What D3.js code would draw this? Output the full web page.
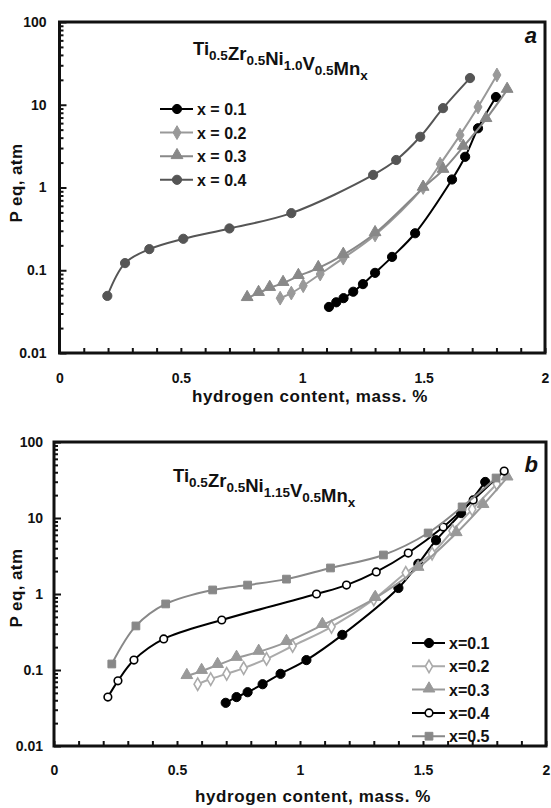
<!DOCTYPE html>
<html>
<head>
<meta charset="utf-8">
<script src="https://cdn.jsdelivr.net/npm/d3@7"></script>
<style>
  body { margin: 0; background: #fff; }
  text { font-family: "Liberation Sans", Arial, sans-serif; font-weight: bold; fill: #111; }
</style>
</head>
<body>
<svg id="chart" width="551" height="808"></svg>
<script>
// panel a : Ti0.5Zr0.5Ni1.0V0.5Mnx
let aH1 = [1.11, 1.14, 1.17, 1.21, 1.25, 1.30, 1.37, 1.465, 1.617, 1.671, 1.724, 1.798]
let aP1 = [0.036, 0.041, 0.046, 0.055, 0.068, 0.093, 0.145, 0.28, 1.25, 2.35, 5.2, 12.4]
let aH2 = [0.909, 0.955, 1.004, 1.074, 1.169, 1.30, 1.498, 1.568, 1.65, 1.724, 1.802]
let aP2 = [0.046, 0.053, 0.065, 0.09, 0.14, 0.267, 1.0, 1.92, 4.3, 9.4, 22.9]
let aH3 = [0.773, 0.82, 0.866, 0.921, 0.984, 1.066, 1.169, 1.30, 1.498, 1.58, 1.663, 1.757, 1.844]
let aP3 = [0.046, 0.053, 0.061, 0.07, 0.085, 0.106, 0.153, 0.28, 0.99, 1.63, 3.1, 6.7, 15.1]
let aH4 = [0.197, 0.27, 0.37, 0.51, 0.70, 0.955, 1.292, 1.387, 1.486, 1.58, 1.691]
let aP4 = [0.049, 0.122, 0.18, 0.24, 0.32, 0.49, 1.42, 2.15, 4.1, 9.1, 21]
let aNames = ["x = 0.1", "x = 0.2", "x = 0.3", "x = 0.4"]

// panel b : Ti0.5Zr0.5Ni1.15V0.5Mnx
let bH1 = [0.698, 0.742, 0.787, 0.848, 0.921, 1.026, 1.172, 1.40, 1.481, 1.553, 1.655, 1.753]
let bP1 = [0.037, 0.044, 0.051, 0.065, 0.089, 0.135, 0.29, 1.2, 2.5, 5.1, 11.6, 29.8]
let bH2 = [0.584, 0.637, 0.702, 0.771, 0.864, 0.97, 1.128, 1.30, 1.43, 1.537, 1.62, 1.70, 1.80]
let bP2 = [0.065, 0.076, 0.089, 0.106, 0.14, 0.207, 0.37, 0.85, 1.9, 3.4, 6.8, 13, 28]
let bH3 = [0.54, 0.60, 0.665, 0.742, 0.832, 0.945, 1.091, 1.306, 1.48, 1.635, 1.744, 1.842]
let bP3 = [0.083, 0.097, 0.116, 0.144, 0.173, 0.233, 0.39, 0.885, 2.2, 6.3, 14.8, 34]
let bH4 = [0.219, 0.26, 0.325, 0.446, 0.682, 1.067, 1.189, 1.31, 1.44, 1.582, 1.704, 1.83]
let bP4 = [0.044, 0.072, 0.135, 0.256, 0.455, 1.0, 1.31, 1.95, 3.46, 7.6, 17.3, 41.5]
let bH5 = [0.235, 0.333, 0.454, 0.645, 0.787, 0.945, 1.124, 1.339, 1.521, 1.659, 1.797]
let bP5 = [0.12, 0.38, 0.74, 1.13, 1.31, 1.57, 2.2, 3.26, 6.35, 14, 33.6]
let bNames = ["x=0.1", "x=0.2", "x=0.3", "x=0.4", "x=0.5"]

let xTickLabels = [0, 0.5, 1, 1.5, 2]
let yTickLabels = [0.01, 0.1, 1, 10, 100]

let svg = d3.select("#chart")

function zip(h, p) {
    return h.map((d, i) => ({ h: d, p: p[i] }))
}

function drawMarker(g, type, color, cx, cy) {
    if (type == "circle" || type == "ring") {
        g.append("circle")
            .attr("cx", cx).attr("cy", cy)
            .attr("r", type == "ring" ? 3.8 : 4.6)
            .attr("fill", type == "ring" ? "#fff" : color)
            .attr("stroke", color)
            .attr("stroke-width", type == "ring" ? 1.6 : 1)
    } else {
        let sym = { diamond: d3.symbolDiamond, triangle: d3.symbolTriangle, square: d3.symbolSquare, odiamond: d3.symbolDiamond }[type]
        let size = { diamond: 55, odiamond: 45, triangle: 60, square: 60 }[type]
        g.append("path")
            .attr("d", d3.symbol().type(sym).size(size)())
            .attr("transform", "translate(" + cx + "," + (type == "triangle" ? cy - 1 : cy) + ")")
            .attr("fill", type == "odiamond" ? "#fff" : color)
            .attr("stroke", color)
            .attr("stroke-width", type == "odiamond" ? 1.6 : 1)
    }
}

function drawPanel(p) {
    let x = d3.scaleLinear().domain([0, 2]).range([p.left, p.right])
    let y = d3.scaleLog().domain([0.01, 100]).range([p.bottom, p.top])
    let g = svg.append("g")

    // minor ticks, inward
    let minorY = []
    yTickLabels.slice(0, 4).forEach(d => { for (let k = 2; k <= 9; k++) minorY.push(d * k) })

    g.append("g")
        .attr("transform", "translate(0," + p.bottom + ")")
        .call(d3.axisBottom(x).tickValues(d3.range(0, 21).map(d => d / 10)).tickSize(-5).tickFormat(""))
        .call(a => a.select(".domain").remove())
        .call(a => a.selectAll("line").attr("stroke", "#111").attr("stroke-width", 2))

    g.append("g")
        .attr("transform", "translate(0," + p.bottom + ")")
        .call(d3.axisBottom(x).tickValues(xTickLabels).tickSize(0).tickPadding(p.xPad).tickFormat(d => String(d)))
        .call(a => a.select(".domain").remove())
        .call(a => a.selectAll("text").attr("font-size", 14).style("fill", "#111"))

    g.append("g")
        .attr("transform", "translate(" + p.left + ",0)")
        .call(d3.axisLeft(y).tickValues(minorY).tickSize(-4).tickFormat(""))
        .call(a => a.select(".domain").remove())
        .call(a => a.selectAll("line").attr("stroke", "#111").attr("stroke-width", 2))

    g.append("g")
        .attr("transform", "translate(" + p.left + ",0)")
        .call(d3.axisLeft(y).tickValues(yTickLabels).tickSize(-7).tickPadding(p.yPad).tickFormat(d => String(d)))
        .call(a => a.select(".domain").remove())
        .call(a => a.selectAll("line").attr("stroke", "#111").attr("stroke-width", 2))
        .call(a => a.selectAll("text").attr("font-size", 14).style("fill", "#111"))

    // frame
    g.append("rect")
        .attr("x", p.left).attr("y", p.top)
        .attr("width", p.right - p.left).attr("height", p.bottom - p.top)
        .attr("fill", "none").attr("stroke", "#111").attr("stroke-width", 3)

    let line = d3.line()
        .x(d => x(d.h))
        .y(d => y(d.p))
        .curve(d3.curveCatmullRom.alpha(0.5))

    p.series.forEach(s => {
        g.append("path")
            .attr("d", line(s.data))
            .attr("fill", "none")
            .attr("stroke", s.color)
            .attr("stroke-width", 2)
        s.data.forEach(d => drawMarker(g, s.marker, s.color, x(d.h), y(d.p)))
    })

    // legend
    p.series.forEach((s, i) => {
        let ly = p.legY + i * p.legStep
        g.append("line")
            .attr("x1", p.legX).attr("x2", p.legX + 33)
            .attr("y1", ly).attr("y2", ly)
            .attr("stroke", s.color).attr("stroke-width", 2)
        drawMarker(g, s.marker, s.color, p.legX + 17, ly)
        g.append("text")
            .attr("x", p.legX + 37).attr("y", ly + 6)
            .attr("font-size", 16)
            .text(s.name)
    })

    // formula
    let t = g.append("text")
        .attr("x", p.titleX).attr("y", p.titleY)
        .attr("font-size", 18.5)
    p.formula.forEach(f => {
        t.append("tspan").text(f[0])
        if (f[1]) t.append("tspan").attr("font-size", 13.5).attr("dy", 5).text(f[1])
        if (f[1]) t.append("tspan").attr("dy", -5).text("")
    })

    g.append("text")
        .attr("x", p.right - 8).attr("y", p.letterY)
        .attr("text-anchor", "end")
        .attr("font-size", 22)
        .attr("font-style", "italic")
        .text(p.letter)

    g.append("text")
        .attr("x", p.xTitleX).attr("y", p.xTitleY)
        .attr("text-anchor", "middle")
        .attr("font-size", 17)
        .attr("letter-spacing", 0.6)
        .text("hydrogen content, mass. %")

    g.append("text")
        .attr("transform", "translate(22," + p.yTitleY + ") rotate(-90)")
        .attr("text-anchor", "middle")
        .attr("font-size", 17)
        .attr("letter-spacing", 0.4)
        .text("P eq, atm")
}

drawPanel({
    left: 59.5, right: 545, top: 22, bottom: 353,
    xPad: 20, yPad: 13,
    series: [
        { name: aNames[0], data: zip(aH1, aP1), color: "#000", marker: "circle" },
        { name: aNames[1], data: zip(aH2, aP2), color: "#999", marker: "diamond" },
        { name: aNames[2], data: zip(aH3, aP3), color: "#888", marker: "triangle" },
        { name: aNames[3], data: zip(aH4, aP4), color: "#555", marker: "circle" }
    ],
    legX: 160, legY: 109, legStep: 23.6,
    formula: [["Ti", "0.5"], ["Zr", "0.5"], ["Ni", "1.0"], ["V", "0.5"], ["Mn", "x"]],
    titleX: 193, titleY: 55,
    letter: "a", letterY: 43,
    xTitleX: 310, xTitleY: 402, yTitleY: 183
})

drawPanel({
    left: 54, right: 546, top: 442, bottom: 746,
    xPad: 19, yPad: 11,
    series: [
        { name: bNames[0], data: zip(bH1, bP1), color: "#000", marker: "circle" },
        { name: bNames[1], data: zip(bH2, bP2), color: "#aaa", marker: "odiamond" },
        { name: bNames[2], data: zip(bH3, bP3), color: "#999", marker: "triangle" },
        { name: bNames[3], data: zip(bH4, bP4), color: "#000", marker: "ring" },
        { name: bNames[4], data: zip(bH5, bP5), color: "#888", marker: "square" }
    ],
    legX: 412, legY: 643, legStep: 23.3,
    formula: [["Ti", "0.5"], ["Zr", "0.5"], ["Ni", "1.15"], ["V", "0.5"], ["Mn", "x"]],
    titleX: 173, titleY: 482,
    letter: "b", letterY: 472,
    xTitleX: 313, xTitleY: 802, yTitleY: 588
})
</script>
</body>
</html>
